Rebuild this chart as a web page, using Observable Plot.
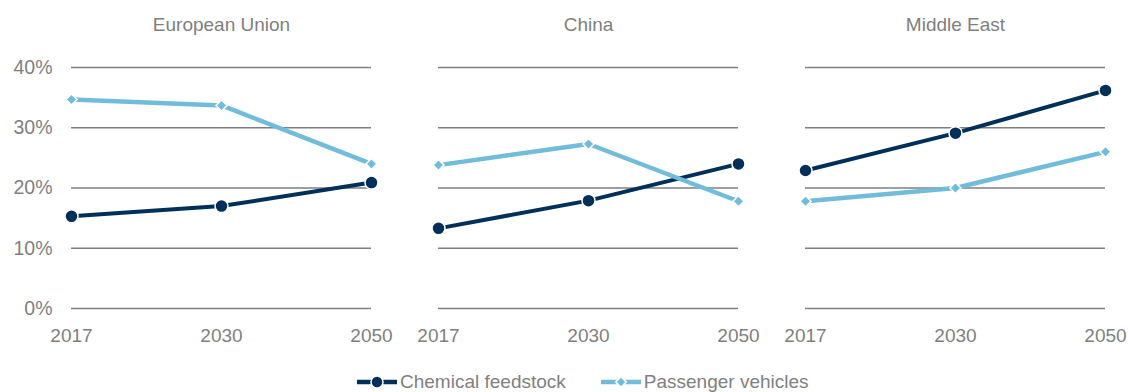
<!DOCTYPE html>
<html>
<head>
<meta charset="utf-8">
<script src="https://cdn.jsdelivr.net/npm/d3@7"></script>
<script src="https://cdn.jsdelivr.net/npm/@observablehq/plot@0.6"></script>
<style>
  html, body { margin: 0; padding: 0; background: #fff; }
  body { width: 1128px; height: 392px; position: relative; overflow: hidden;
         font-family: "Liberation Sans", Arial, sans-serif; }
  #chart svg { display: block; }
  #legend { position: absolute; top: 371px; left: 357px; display: flex; align-items: center;
            color: #7f7f7f; font-size: 19px; line-height: 22px; }
  #legend .item { display: flex; align-items: center; }
  #legend .item + .item { margin-left: 35px; }
  #legend svg { display: block; margin-right: 3px; }
</style>
</head>
<body>
<div id="chart"></div>
<div id="legend"></div>
<script>
const regions = ["European Union", "China", "Middle East"];
const years = ["2017", "2030", "2050"];
const seriesNames = ["Chemical feedstock", "Passenger vehicles"];
const seriesColors = ["#00305a", "#71bcdb"];
const yTicks = [0, 10, 20, 30, 40];

const chemicalEU = [15.3, 17.0, 20.9];
const chemicalChina = [13.3, 17.9, 24.0];
const chemicalME = [22.9, 29.1, 36.2];
const passengerEU = [34.7, 33.7, 24.0];
const passengerChina = [23.8, 27.3, 17.8];
const passengerME = [17.8, 20.0, 26.0];

const rows = [];
function add(series, region, vals) {
  vals.forEach((v, i) => rows.push({series, region, year: years[i], value: v}));
}
add(seriesNames[0], regions[0], chemicalEU);
add(seriesNames[0], regions[1], chemicalChina);
add(seriesNames[0], regions[2], chemicalME);
add(seriesNames[1], regions[0], passengerEU);
add(seriesNames[1], regions[1], passengerChina);
add(seriesNames[1], regions[2], passengerME);

const chem = rows.filter(d => d.series === seriesNames[0]);
const pass = rows.filter(d => d.series === seriesNames[1]);
const font = '"Liberation Sans", Arial, sans-serif';

const chart = Plot.plot({
  width: 1128,
  height: 352,
  marginLeft: 71,
  marginRight: 23,
  marginTop: 67,
  marginBottom: 44,
  style: {fontFamily: font, fontSize: "19px", color: "#7f7f7f", background: "#fff"},
  fx: {domain: regions, paddingInner: 0.183, paddingOuter: 0, axis: null},
  x: {type: "point", domain: years, padding: 0},
  y: {domain: [0, 40], ticks: yTicks},
  color: {domain: seriesNames, range: seriesColors},
  marks: [
    Plot.gridY(yTicks, {stroke: "#7f7f7f", strokeOpacity: 1, strokeWidth: 1.5}),
    Plot.axisY(yTicks, {anchor: "left", tickSize: 0, tickPadding: 19, tickFormat: d => d + "%", fill: "#7f7f7f", fontSize: "19.5px", label: null}),
    Plot.axisX(years, {anchor: "bottom", tickSize: 0, tickPadding: 20, fill: "#7f7f7f", fontSize: "19px", label: null}),
    Plot.text(regions, {fx: d => d, text: d => d, frameAnchor: "top", dy: -50, fill: "#7f7f7f", fontSize: "19px"}),
    Plot.line(chem, {fx: "region", x: "year", y: "value", stroke: seriesColors[0], strokeWidth: 4}),
    Plot.dot(chem, {fx: "region", x: "year", y: "value", fill: seriesColors[0], stroke: "#fff", strokeWidth: 1.5, r: 6.5, symbol: "circle"}),
    Plot.line(pass, {fx: "region", x: "year", y: "value", stroke: seriesColors[1], strokeWidth: 4.5}),
    Plot.dot(pass, {fx: "region", x: "year", y: "value", fill: seriesColors[1], stroke: "#fff", strokeWidth: 1.5, r: 5, symbol: "diamond2"})
  ]
});
document.getElementById("chart").appendChild(chart);

// Legend
const legend = d3.select("#legend");
seriesNames.forEach((name, i) => {
  const item = legend.append("div").attr("class", "item");
  const s = item.append("svg").attr("width", 40).attr("height", 16);
  s.append("line").attr("x1", 0).attr("x2", 40).attr("y1", 8).attr("y2", 8)
    .attr("stroke", seriesColors[i]).attr("stroke-width", 4.5);
  if (i === 0) {
    s.append("circle").attr("cx", 20).attr("cy", 8).attr("r", 6).attr("fill", seriesColors[i]).attr("stroke", "#fff").attr("stroke-width", 1.5);
  } else {
    s.append("path").attr("d", d3.symbol(d3.symbolDiamond2, 70)()).attr("transform", "translate(20,8)")
      .attr("fill", seriesColors[i]).attr("stroke", "#fff").attr("stroke-width", 1.5);
  }
  item.append("span").text(name);
});
</script>
</body>
</html>
